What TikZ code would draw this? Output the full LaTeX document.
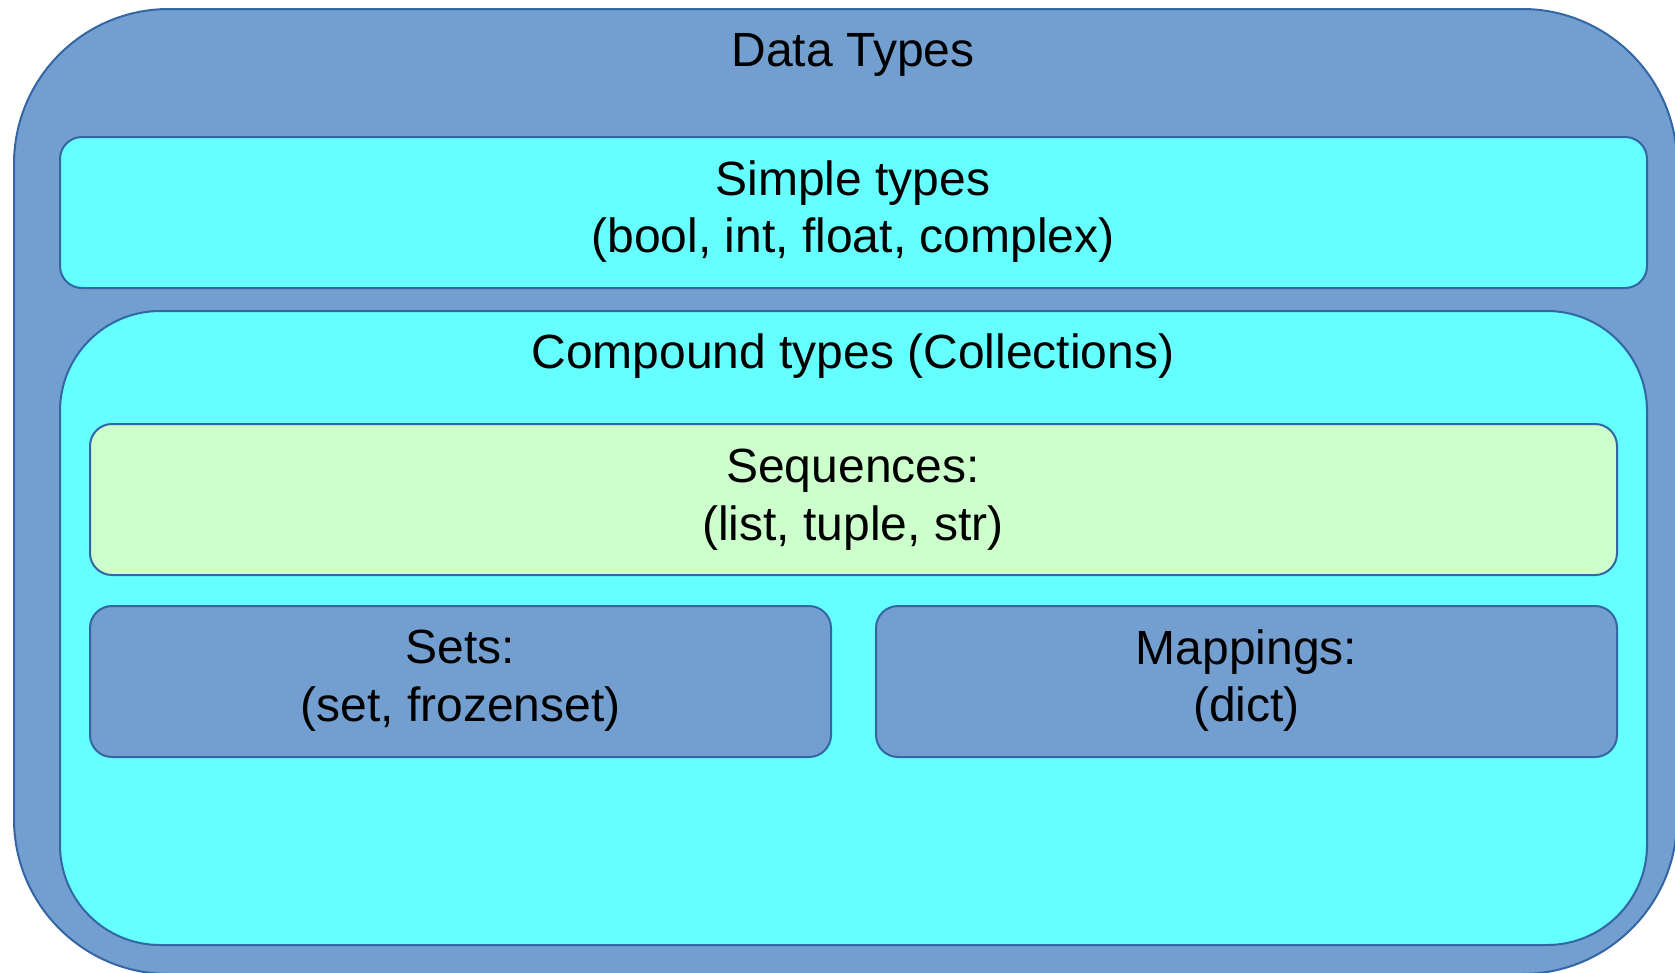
\documentclass[tikz,border=0pt]{standalone}
\usepackage{fontspec}
\setmainfont{Liberation Sans}
\definecolor{outerblue}{HTML}{729FCF}
\definecolor{cyanfill}{HTML}{66FFFF}
\definecolor{greenfill}{HTML}{CCFFCC}
\definecolor{edgeblue}{HTML}{3465A4}
\tikzset{
  box/.style={draw=edgeblue, line width=2pt},
  lbl/.style={font=\fontsize{48}{57.6}\selectfont, align=center, text=black, inner sep=0pt},
}
\begin{document}
\begin{tikzpicture}[x=1pt,y=-1pt]
\useasboundingbox (0,0) rectangle (1675,972);
\clip (0,0) rectangle (1675,972);
% outer
\path[box, fill=outerblue, rounded corners=155pt] (14,9) rectangle (1677,974);
\node[lbl] (dt) at (853,54.5) {Data Types};
% simple
\path[box, fill=cyanfill, rounded corners=22pt] (60,137) rectangle (1647,288);
\node[lbl] (simple) at (853,211.5) {Simple types\\(bool, int, float, complex)};
% compound
\path[box, fill=cyanfill, rounded corners=100pt] (60,311) rectangle (1647,945);
\node[lbl] (comp) at (853,356.5) {Compound types (Collections)};
% sequences
\path[box, fill=greenfill, rounded corners=22pt] (90,424) rectangle (1617,575);
\node[lbl] (seq) at (853,499.5) {Sequences:\\(list, tuple, str)};
% sets
\path[box, fill=outerblue, rounded corners=22pt] (90,606) rectangle (831,757);
\node[lbl] (sets) at (460.5,680.5) {Sets:\\(set, frozenset)};
% mappings
\path[box, fill=outerblue, rounded corners=22pt] (876,606) rectangle (1617,757);
\node[lbl] (map) at (1246.5,680.5) {Mappings:\\(dict)};
\end{tikzpicture}
\end{document}
